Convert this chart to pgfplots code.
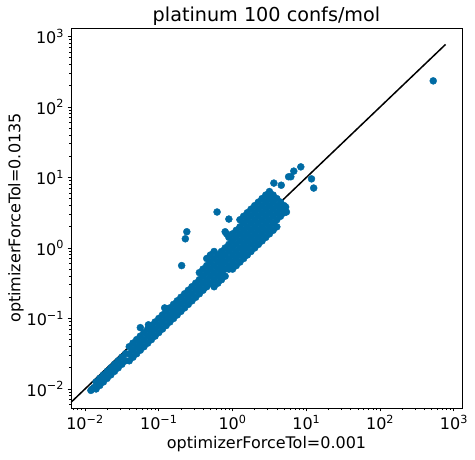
\documentclass[border=0pt]{standalone}
\usepackage{pgfplots}
\pgfplotsset{compat=1.18}
\usepackage{fontspec}
\setmainfont{DejaVu Sans}
\definecolor{mplblue}{HTML}{006BA4}
\newcommand{\tl}[1]{10\textsuperscript{#1}}
\begin{document}
\begin{tikzpicture}
\begin{axis}[
  scale only axis,
  width=391bp, height=380bp,
  xmode=log, ymode=log,
  xmin=0.00646, xmax=1288,
  ymin=0.00537, ymax=1318,
  xtick={0.01,0.1,1,10,100,1000},
  xticklabels={\tl{−2},\tl{−1},\tl{0},\tl{1},\tl{2},\tl{3}},
  ytick={0.01,0.1,1,10,100,1000},
  yticklabels={\tl{−2},\tl{−1},\tl{0},\tl{1},\tl{2},\tl{3}},
  minor xtick={0.007,0.008,0.009,0.02,0.03,0.04,0.05,0.06,0.07,0.08,0.09,0.2,0.3,0.4,0.5,0.6,0.7,0.8,0.9,2,3,4,5,6,7,8,9,20,30,40,50,60,70,80,90,200,300,400,500,600,700,800,900},
  minor ytick={0.006,0.007,0.008,0.009,0.02,0.03,0.04,0.05,0.06,0.07,0.08,0.09,0.2,0.3,0.4,0.5,0.6,0.7,0.8,0.9,2,3,4,5,6,7,8,9,20,30,40,50,60,70,80,90,200,300,400,500,600,700,800,900},
  tick align=outside,
  tick pos=left,
  major tick length=3.5bp,
  minor tick length=2bp,
  every tick/.style={black, line width=0.8bp},
  axis line style={line width=0.8bp},
  tick label style={font=\fontsize{16bp}{19bp}\selectfont},
  label style={font=\fontsize{16bp}{19bp}\selectfont},
  xlabel={optimizerForceTol=0.001},
  ylabel={optimizerForceTol=0.0135},
  xlabel style={at={(axis description cs:0.5,-0.0947)}, anchor=center},
  ylabel style={at={(axis description cs:-0.1407,0.5)}, anchor=center, rotate=0},
  title={platinum 100 confs/mol},
  title style={at={(axis description cs:0.5,1.015)}, anchor=center, font=\fontsize{19.2bp}{23bp}\selectfont},
]
\addplot[only marks, mark=*, mark size=3.5bp, mark options={draw=mplblue, fill=mplblue}] table {
x y
0.01259 0.0100
0.01413 0.01259
0.01413 0.0100
0.01585 0.01413
0.01585 0.01122
0.01778 0.01585
0.01778 0.01259
0.01995 0.01778
0.01995 0.01413
0.02239 0.01995
0.02239 0.01585
0.02512 0.02239
0.02512 0.01778
0.02818 0.02512
0.02818 0.01995
0.03162 0.02818
0.03162 0.02239
0.03548 0.03162
0.03548 0.02512
0.03981 0.03981
0.03981 0.03162
0.03981 0.02512
0.04467 0.04467
0.04467 0.03548
0.04467 0.02818
0.05012 0.05012
0.05012 0.03981
0.05012 0.03162
0.05623 0.05623
0.05623 0.04467
0.05623 0.03548
0.06310 0.06310
0.06310 0.05012
0.06310 0.03981
0.07079 0.07079
0.07079 0.05623
0.07079 0.04467
0.07943 0.07943
0.07943 0.06310
0.07943 0.05012
0.08913 0.08913
0.08913 0.07079
0.08913 0.05623
0.1000 0.06310
0.1000 0.07943
0.1000 0.1000
0.1122 0.07079
0.1122 0.08913
0.1122 0.1122
0.1259 0.07943
0.1259 0.1000
0.1259 0.1259
0.1413 0.08913
0.1413 0.1122
0.1413 0.1413
0.1585 0.1000
0.1585 0.1259
0.1585 0.1585
0.1778 0.1122
0.1778 0.1413
0.1778 0.1778
0.1995 0.1259
0.1995 0.1585
0.1995 0.1995
0.2239 0.1413
0.2239 0.1778
0.2239 0.2239
0.2512 0.1585
0.2512 0.1995
0.2512 0.2512
0.2818 0.1778
0.2818 0.2239
0.2818 0.2818
0.3162 0.1995
0.3162 0.2512
0.3162 0.3162
0.3548 0.2239
0.3548 0.2818
0.3548 0.3548
0.3548 0.4467
0.3981 0.2512
0.3981 0.3162
0.3981 0.3981
0.3981 0.5012
0.4467 0.2818
0.4467 0.3548
0.4467 0.4467
0.4467 0.5623
0.4467 0.7079
0.5012 0.3162
0.5012 0.3981
0.5012 0.5012
0.5012 0.6310
0.5012 0.7943
0.5623 0.2818
0.5623 0.3548
0.5623 0.4467
0.5623 0.5623
0.5623 0.7079
0.5623 0.8913
0.6310 0.3162
0.6310 0.3981
0.6310 0.5012
0.6310 0.6310
0.6310 0.7943
0.7079 0.3548
0.7079 0.4467
0.7079 0.5623
0.7079 0.7079
0.7079 0.8913
0.7943 0.3981
0.7943 0.5012
0.7943 0.6310
0.7943 0.7943
0.7943 1.000
0.8913 0.5012
0.8913 0.5623
0.8913 0.7079
0.8913 0.8913
0.8913 1.122
0.8913 1.413
1.000 0.5012
1.000 0.6310
1.000 0.7943
1.000 1.000
1.000 1.259
1.000 1.585
1.122 0.5623
1.122 0.7079
1.122 0.8913
1.122 1.122
1.122 1.413
1.122 1.778
1.259 0.6310
1.259 0.7943
1.259 1.000
1.259 1.259
1.259 1.585
1.259 1.995
1.259 2.512
1.413 0.7079
1.413 0.8913
1.413 1.122
1.413 1.413
1.413 1.778
1.413 2.239
1.413 2.818
1.585 0.7943
1.585 1.000
1.585 1.259
1.585 1.585
1.585 1.995
1.585 2.512
1.585 3.162
1.778 0.8913
1.778 1.122
1.778 1.413
1.778 1.778
1.778 2.239
1.778 2.818
1.778 3.548
1.995 1.000
1.995 1.259
1.995 1.585
1.995 1.995
1.995 2.512
1.995 3.162
1.995 3.981
2.239 1.122
2.239 1.413
2.239 1.778
2.239 2.239
2.239 2.818
2.239 3.548
2.239 4.467
2.512 1.259
2.512 1.585
2.512 1.995
2.512 2.512
2.512 3.162
2.512 3.981
2.512 5.012
2.818 1.413
2.818 1.778
2.818 2.239
2.818 2.818
2.818 3.548
2.818 4.467
2.818 5.623
3.162 1.585
3.162 1.995
3.162 2.512
3.162 3.162
3.162 3.981
3.162 5.012
3.162 6.310
3.548 1.778
3.548 2.239
3.548 2.818
3.548 3.548
3.548 4.467
3.548 5.623
3.981 1.995
3.981 2.512
3.981 3.162
3.981 3.981
3.981 5.012
4.467 2.818
4.467 3.548
4.467 4.467
5.012 3.162
5.012 3.981
0.01202 0.00955
0.01318 0.01047
0.05623 0.07413
0.07244 0.08128
0.1202 0.1413
0.2042 0.5623
0.2291 1.349
0.2399 1.698
0.6166 3.236
0.8913 2.570
0.7943 1.698
0.8318 1.585
3.631 8.318
4.571 7.762
5.754 10.23
6.166 10.23
6.761 12.30
8.414 14.13
11.75 9.550
12.59 7.079
5.248 3.802
5.370 3.236
524.8 234.4
};
\addplot[black, line width=1.5bp] coordinates {(0.0064,0.0064) (770,770)};
\end{axis}
\useasboundingbox (-71bp,-52bp) rectangle (404bp,408bp);
\end{tikzpicture}
\end{document}
